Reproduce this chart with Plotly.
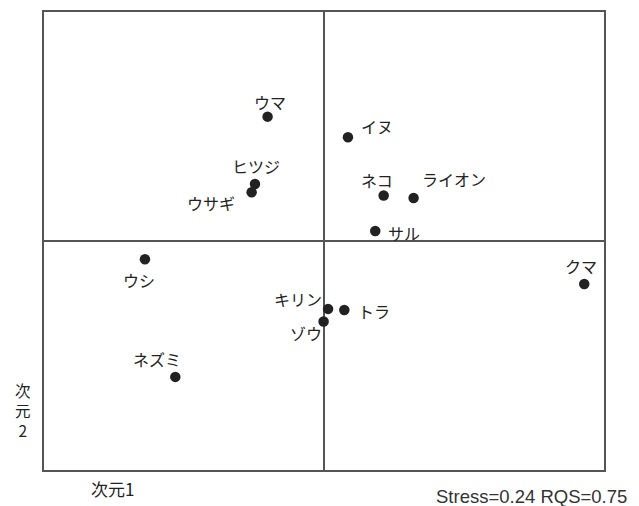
import plotly.graph_objects as go

# Data (MDS coordinates)
animals = ["ウマ", "イヌ", "ヒツジ", "ウサギ", "ネコ", "ライオン", "サル",
           "ウシ", "クマ", "キリン", "トラ", "ゾウ", "ネズミ"]
dim1 = [-0.403, 0.171, -0.493, -0.517, 0.426, 0.640, 0.366,
        -1.279, 1.859, 0.029, 0.145, -0.003, -1.062]
dim2 = [1.086, 0.906, 0.498, 0.426, 0.397, 0.376, 0.087,
        -0.159, -0.376, -0.593, -0.602, -0.703, -1.187]
stress_text = "Stress=0.24 RQS=0.75"
xlabel = "次元1"
ylabel_chars = ["次", "元", "2"]

# Label offsets in pixels (style)
label_shift = [(2, 15), (29, 11), (1, 18), (-41, -11), (-7, 16), (40, 19), (29, -2),
               (-6, -21), (-3, 18), (-30, 10), (30, -1), (-18, -12), (-18, 18)]

W, H = 639, 506
L, R, T, B = 44, 35, 10, 36
pw, ph = W - L - R, H - T - B

fig = go.Figure()
fig.add_trace(go.Scatter(
    x=dim1, y=dim2, mode="markers",
    marker=dict(size=10.5, color="#222222"),
    hoverinfo="text", text=animals, showlegend=False,
))

annotations = []
for name, x, y, (dx, dy) in zip(animals, dim1, dim2, label_shift):
    annotations.append(dict(
        x=x, y=y, xref="x", yref="y", text=name, showarrow=False,
        xshift=dx, yshift=dy,
        font=dict(family="Noto Sans CJK JP", size=16, color="#222222"),
    ))

def px_to_paper(px, py):
    return (px - L) / pw, (H - B - py) / ph

ax, ay = px_to_paper(112.5, 489)
annotations.append(dict(x=ax, y=ay, xref="paper", yref="paper", text=xlabel,
                        showarrow=False, xanchor="center", yanchor="middle",
                        font=dict(family="Noto Sans CJK JP", size=17, color="#222222")))
cx, cy = px_to_paper(23, 409.5)
annotations.append(dict(x=cx, y=cy, xref="paper", yref="paper",
                        text="<br>".join(ylabel_chars),
                        showarrow=False, xanchor="center", yanchor="middle",
                        font=dict(family="Noto Sans CJK JP", size=15.5, color="#222222")))
sx, sy = px_to_paper(531.4, 496.5)
annotations.append(dict(x=sx, y=sy, xref="paper", yref="paper", text=stress_text,
                        showarrow=False, xanchor="center", yanchor="middle",
                        height=19,
                        font=dict(family="Liberation Sans", size=18.5, color="#333333")))

axis_common = dict(showgrid=False, showticklabels=False, ticks="",
                   zeroline=True, zerolinecolor="#555555", zerolinewidth=1.5,
                   showline=True, linecolor="#555555", linewidth=1.5, mirror=True,
                   fixedrange=True)

fig.update_layout(
    width=W, height=H,
    margin=dict(l=L, r=R, t=T, b=B, pad=0),
    paper_bgcolor="white", plot_bgcolor="white",
    xaxis=dict(range=[-2, 2], **axis_common),
    yaxis=dict(range=[-2, 2], **axis_common),
    annotations=annotations,
)

fig.write_html("out.html")
